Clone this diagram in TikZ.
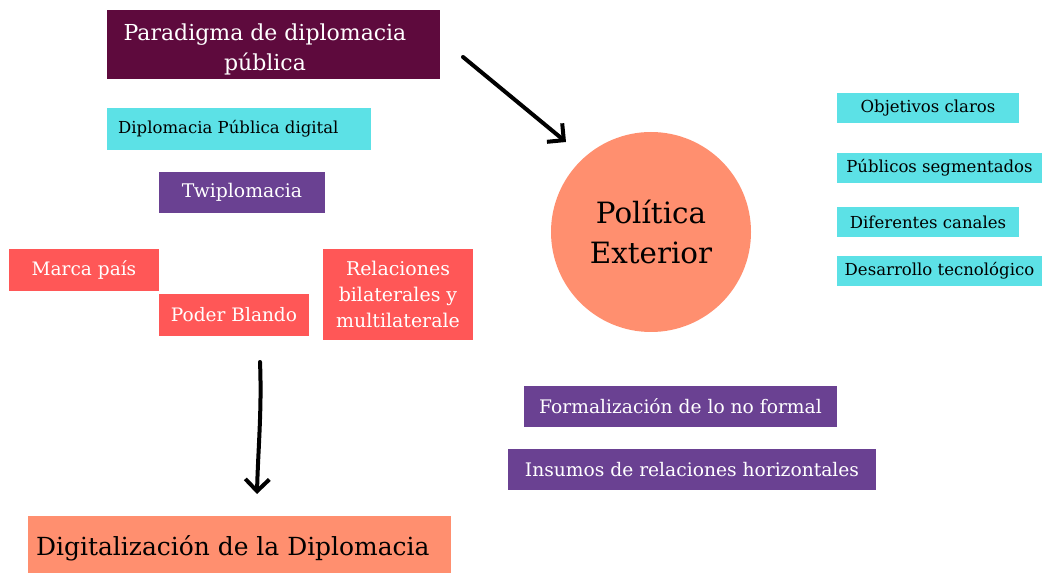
\documentclass[tikz,border=0pt]{standalone}
\usepackage{fontspec}
\setmainfont{DejaVu Serif}
\usetikzlibrary{arrows.meta}
\definecolor{dpurple}{HTML}{5E0A3D}
\definecolor{cyanb}{HTML}{5CE1E6}
\definecolor{purp}{HTML}{6A4192}
\definecolor{redb}{HTML}{FF5757}
\definecolor{salmon}{HTML}{FF8F6F}
\tikzset{
  box/.style={rectangle, inner sep=0pt, align=center},
  cyanbox/.style={box, fill=cyanb, text=black, font=\fontsize{12.4}{14}\selectfont},
  purpbox/.style={box, fill=purp, text=white},
  redbox/.style={box, fill=redb, text=white, font=\fontsize{13.9}{16}\selectfont},
  sketch/.style={line width=3pt, line cap=round, line join=round, -{Straight Barb[length=9pt,width=18pt,line width=3pt]}},
}
\begin{document}
\begin{tikzpicture}[x=0.75pt,y=-0.75pt]
\useasboundingbox[fill=white] (0,0) rectangle (1042,573);
% left column
\node[box, fill=dpurple, minimum width=249.75pt, minimum height=51.75pt] (par) at (273.5,44.5) {};
\node[box, text=white, font=\fontsize{16.5}{22.5}\selectfont] (partext) at (265,49) {Paradigma de diplomacia\\pública};
\node[cyanbox, minimum width=198pt, minimum height=31.5pt] (dpd) at (239,129) {\hspace*{-16pt}Diplomacia Pública digital};
\node[purpbox, minimum width=124.5pt, minimum height=30.75pt, font=\fontsize{14.1}{16}\selectfont] (twi) at (242,192.5) {Twiplomacia};
\node[redbox, minimum width=112.5pt, minimum height=31.5pt] (mar) at (84,270) {Marca país};
\node[redbox, minimum width=112.5pt, minimum height=31.5pt] (pod) at (234,315) {Poder Blando};
\node[redbox, minimum width=112.5pt, minimum height=68.25pt, font=\fontsize{14.2}{19.5}\selectfont] (rel) at (398,294.5) {Relaciones\\bilaterales y\\multilaterale};
% circle
\node[circle, fill=salmon, minimum size=150pt, inner sep=0pt, align=center,
      font=\fontsize{22}{30}\selectfont] (pol) at (651,232) {Política\\Exterior};
% right column
\node[cyanbox, minimum width=136.5pt, minimum height=22.5pt] (obj) at (928,108) {Objetivos claros};
\node[cyanbox, minimum width=153.75pt, minimum height=22.5pt] (pub) at (939.5,168) {Públicos segmentados};
\node[cyanbox, minimum width=136.5pt, minimum height=22.5pt] (dif) at (928,222) {Diferentes canales};
\node[cyanbox, minimum width=153.75pt, minimum height=22.5pt] (des) at (939.5,271) {Desarrollo tecnológico};
% bottom purple
\node[purpbox, minimum width=234.75pt, minimum height=30.75pt, font=\fontsize{14}{16}\selectfont] (for) at (680.5,406.5) {Formalización de lo no formal};
\node[purpbox, minimum width=276pt, minimum height=30.75pt, font=\fontsize{14}{16}\selectfont] (ins) at (692,469.5) {Insumos de relaciones horizontales};
% bottom box
\node[box, fill=salmon, text=black, minimum width=317.25pt, minimum height=48pt,
      font=\fontsize{18.7}{22}\selectfont] (dig) at (239.5,548) {\hspace*{-10pt}Digitalización de la Diplomacia};
% arrows
\coordinate (a1s) at (463,57);
\coordinate (a1e) at (566,142);
\coordinate (a2s) at (260,362);
\coordinate (a2e) at (257,494);
\draw[sketch] (a1s) -- (a1e);
\draw[sketch] (a2s) .. controls (262,410) and (258,450) .. (a2e);
\end{tikzpicture}
\end{document}
